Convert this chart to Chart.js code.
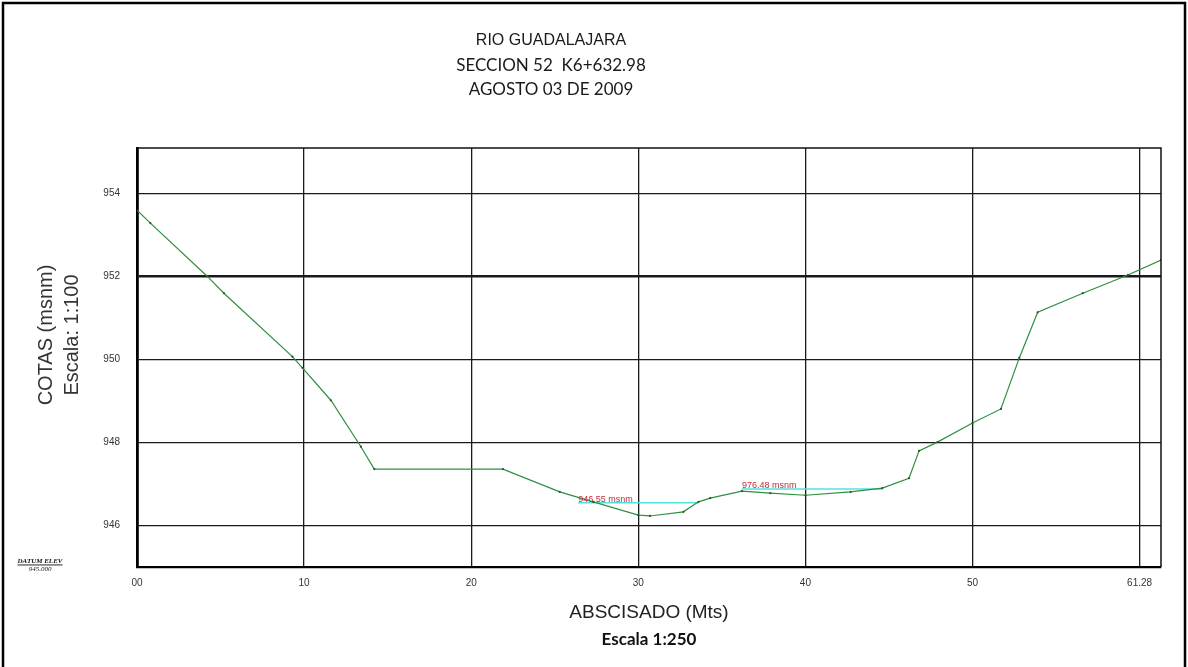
<!DOCTYPE html>
<html>
<head>
<meta charset="utf-8">
<script src="https://cdn.jsdelivr.net/npm/chart.js@4.4.1/dist/chart.umd.min.js"></script>
<style>
  html, body { margin: 0; padding: 0; background: #fff; }
  #wrap { position: relative; width: 1188px; height: 667px; }
  canvas { display: block; }
</style>
</head>
<body>
<div id="wrap"><canvas id="c" width="1188" height="667"></canvas></div>
<script>
// ---- DATA ----
const abscisas = [0, 0.8, 4.2, 5.2, 9.3, 9.9, 11.6, 13.4, 14.2, 21.9, 25.3, 27.3, 30.0, 30.7, 32.7, 33.6, 34.3, 36.2, 37.9, 40.0, 42.7, 44.6, 46.2, 46.8, 47.9, 50.0, 51.7, 52.8, 53.9, 56.6, 59.3, 61.28];
const cotas    = [953.60, 953.29, 952.01, 951.60, 950.07, 949.80, 949.02, 947.90, 947.36, 947.36, 946.81, 946.57, 946.25, 946.23, 946.33, 946.57, 946.66, 946.83, 946.78, 946.73, 946.81, 946.90, 947.14, 947.80, 948.01, 948.47, 948.81, 950.04, 951.14, 951.60, 952.04, 952.40];

const waterLevels = [946.55, 946.88];
const waterFrom   = [26.4, 36.2];
const waterTo     = [33.6, 44.6];
const waterLabels = ['946.55 msnm', '976.48 msnm'];

const xTickValues = [0, 10, 20, 30, 40, 50, 60];
const xTickLabels = ['00', '10', '20', '30', '40', '50', '61.28'];
const yTickValues = [946, 948, 950, 952, 954];
const yTickLabels = ['946', '948', '950', '952', '954'];

const titleLines = ['RIO GUADALAJARA', 'SECCION 52  K6+632.98', 'AGOSTO 03 DE 2009'];
const yTitleLines = ['COTAS (msnm)', 'Escala: 1:100'];
const xTitleLines = ['ABSCISADO (Mts)', 'Escala 1:250'];
const datumLines = ['DATUM ELEV', '945.000'];

// ---- DATASETS ----
const profile = abscisas.map((x, i) => ({ x: x, y: cotas[i] }));
const waterSets = waterLevels.map((lvl, i) => ({
  label: waterLabels[i],
  data: [{ x: waterFrom[i], y: lvl }, { x: waterTo[i], y: lvl }],
  borderColor: '#55e0e0',
  borderWidth: 1.6,
  pointRadius: 0,
  fill: false,
  order: 2
}));

const textPlugin = {
  id: 'texts',
  beforeDraw(chart) {
    const ctx = chart.ctx;
    ctx.save();
    ctx.fillStyle = '#fff';
    ctx.fillRect(0, 0, chart.width, chart.height);
    ctx.strokeStyle = '#000';
    ctx.lineWidth = 2.5;
    ctx.strokeRect(3, 3, chart.width - 6, chart.height + 20);
    ctx.restore();
  },
  afterDatasetsDraw(chart) {
    const ctx = chart.ctx;
    const xs = chart.scales.x, ys = chart.scales.y;
    ctx.save();
    ctx.fillStyle = '#c42a3a';
    ctx.font = '9px "Liberation Sans", Arial, sans-serif';
    ctx.textAlign = 'left';
    ctx.textBaseline = 'alphabetic';
    waterLabels.forEach((t, i) => {
      ctx.fillText(t, xs.getPixelForValue(waterFrom[i]), ys.getPixelForValue(waterLevels[i]) - 1);
    });
    ctx.restore();
  },
  afterDraw(chart) {
    const ctx = chart.ctx;
    const a = chart.chartArea;
    ctx.save();
    // plot frame top/right
    ctx.strokeStyle = '#111';
    ctx.lineWidth = 1.5;
    ctx.beginPath();
    ctx.moveTo(a.left, a.top); ctx.lineTo(a.right, a.top); ctx.lineTo(a.right, a.bottom);
    ctx.stroke();

    // title
    ctx.fillStyle = '#1a1a1a';
    ctx.textAlign = 'center';
    ctx.textBaseline = 'middle';
    ctx.font = '16px "Liberation Sans", Arial, sans-serif';
    ctx.fillText(titleLines[0], 551, 41);
    ctx.font = '17px Lato, "Open Sans", sans-serif';
    ctx.fillText(titleLines[1], 551, 66);
    ctx.fillText(titleLines[2], 551, 90);

    // y title
    ctx.fillStyle = '#333';
    ctx.font = '20px "Liberation Sans", Arial, sans-serif';
    [46, 72].forEach((px, i) => {
      ctx.save();
      ctx.translate(px, 335);
      ctx.rotate(-Math.PI / 2);
      ctx.fillText(yTitleLines[i], 0, 0);
      ctx.restore();
    });

    // x title
    const cx = (a.left + a.right) / 2;
    ctx.fillStyle = '#222';
    ctx.font = '19px "Liberation Sans", Arial, sans-serif';
    ctx.fillText(xTitleLines[0], cx, 613);
    ctx.fillStyle = '#111';
    ctx.font = 'bold 17px Lato, "Open Sans", sans-serif';
    ctx.fillText(xTitleLines[1], cx, 640);

    // datum
    ctx.fillStyle = '#111';
    ctx.font = 'italic bold 7px "Liberation Serif", serif';
    ctx.textBaseline = 'alphabetic';
    ctx.fillText(datumLines[0], 40, a.bottom - 4);
    const w = ctx.measureText(datumLines[0]).width;
    ctx.fillRect(40 - w / 2, a.bottom - 2.5, w, 0.9);
    ctx.font = 'italic 7px "Liberation Serif", serif';
    ctx.fillText(datumLines[1], 40, a.bottom + 4);
    ctx.restore();
  }
};

new Chart(document.getElementById('c'), {
  type: 'line',
  data: {
    datasets: [
      {
        label: 'Perfil',
        data: profile,
        borderColor: '#2f8f40',
        borderWidth: 1.2,
        pointRadius: 1.1,
        pointBackgroundColor: '#1f5a2a',
        pointBorderWidth: 0,
        tension: 0,
        fill: false,
        order: 1
      },
      ...waterSets
    ]
  },
  options: {
    responsive: false,
    animation: false,
    layout: { padding: { top: 148, right: 27, left: 0, bottom: 0 } },
    plugins: { legend: { display: false }, tooltip: { enabled: false }, title: { display: false } },
    scales: {
      x: {
        type: 'linear',
        min: 0,
        max: 61.28,
        afterBuildTicks(scale) { scale.ticks = xTickValues.map(v => ({ value: v })); },
        afterFit(scale) { scale.height = 100; },
        ticks: {
          callback: (v, i) => xTickLabels[i],
          padding: 10,
          maxRotation: 0,
          autoSkip: false,
          color: '#333',
          font: { family: '"Liberation Sans", Arial, sans-serif', size: 10 }
        },
        grid: { drawTicks: false, color: '#1a1a1a', lineWidth: 1.3 },
        border: { display: true, color: '#000', width: 2.2 }
      },
      y: {
        type: 'linear',
        min: 945,
        max: 955.1,
        afterBuildTicks(scale) { scale.ticks = yTickValues.map(v => ({ value: v })); },
        afterFit(scale) { scale.width = 137; },
        ticks: {
          callback: (v, i) => yTickLabels[i],
          padding: 17,
          color: '#333',
          font: { family: '"Liberation Sans", Arial, sans-serif', size: 10 }
        },
        grid: {
          drawTicks: false,
          color: '#1a1a1a',
          lineWidth: (c) => (c.tick && c.tick.value === 952 ? 2.6 : 1.3)
        },
        border: { display: true, color: '#000', width: 2.8 }
      }
    }
  },
  plugins: [textPlugin]
});
</script>
</body>
</html>
